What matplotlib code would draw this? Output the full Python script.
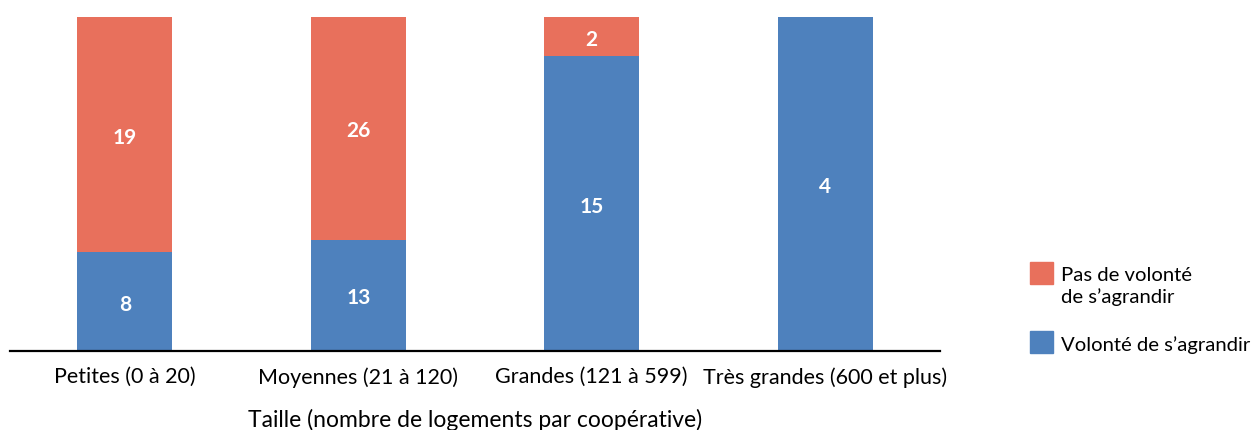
import numpy as np
import matplotlib.pyplot as plt
from matplotlib.patches import Rectangle

plt.rcParams['font.family'] = ['Lato', 'DejaVu Sans']

categories = ['Petites (0 à 20)', 'Moyennes (21 à 120)', 'Grandes (121 à 599)', 'Très grandes (600 et plus)']
volonte = np.array([8, 13, 15, 4])
pas_volonte = np.array([19, 26, 2, 0])
legend_labels = ['Pas de volonté\nde s’agrandir', 'Volonté de s’agrandir']

red = '#E8705C'
blue = '#4E81BD'

total = volonte + pas_volonte
share_v = volonte / total
share_p = pas_volonte / total

W, H = 1258, 431
fig = plt.figure(figsize=(W / 100, H / 100), dpi=100)
ax = fig.add_axes([10 / W, 79 / H, 930 / W, 334 / H])

x = np.arange(len(categories))
w = 0.407
ax.bar(x, share_v, w, color=blue)
ax.bar(x, share_p, w, bottom=share_v, color=red)

for i in range(len(categories)):
    if volonte[i] > 0:
        ax.text(x[i], share_v[i] / 2, str(volonte[i]), ha='center', va='center_baseline',
                color='white', fontsize=15, fontweight='bold')
    if pas_volonte[i] > 0:
        ax.text(x[i], share_v[i] + share_p[i] / 2, str(pas_volonte[i]), ha='center',
                va='center_baseline', color='white', fontsize=15, fontweight='bold')

ax.set_xlim(-0.4925, 3.4925)
ax.set_ylim(0, 1)
ax.set_xticks(x)
ax.set_xticklabels(categories, fontsize=15.5)
ax.tick_params(axis='x', length=0, pad=11)
ax.set_yticks([])
for s in ['top', 'right', 'left']:
    ax.spines[s].set_visible(False)
ax.spines['bottom'].set_linewidth(1.6)
ax.set_xlabel('Taille (nombre de logements par coopérative)', fontsize=16.5, labelpad=15)

# legend drawn by hand so the square sits on the first line of text
def px(xp, yp):
    return xp / W, 1 - yp / H

for color, label, top in [(red, legend_labels[0], 263), (blue, legend_labels[1], 332)]:
    fig.add_artist(Rectangle(px(1030, top + 22), 23 / W, 22 / H, color=color,
                             transform=fig.transFigure))
    fig.text(*px(1061, top + 4), label, fontsize=14.6, va='top', ha='left',
             linespacing=1.3)

fig.savefig('out.png', dpi=100)
